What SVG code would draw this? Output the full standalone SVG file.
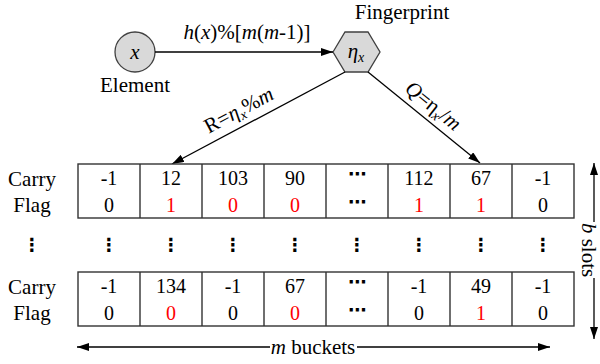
<svg xmlns="http://www.w3.org/2000/svg" width="600" height="364" viewBox="0 0 600 364" font-family="'Liberation Serif','DejaVu Serif',serif">
<style>
text{font-family:'Liberation Serif','DejaVu Serif',serif;fill:#000}
.lbl{font-size:21px}
.num{font-size:20px;text-anchor:middle}
.red{fill:#FF0000}
.it{font-style:italic}
.dots{font-family:'DejaVu Sans',sans-serif;font-weight:bold;font-size:18px;text-anchor:middle}
.cell{fill:#fff;stroke:#333;stroke-width:1.4}
.ln{stroke:#000;stroke-width:1.3;fill:none}
.shape{fill:#D9D9D9;stroke:#404040;stroke-width:1.3}
</style>
<defs>
<marker id="ah" viewBox="0 0 12 8" refX="12" refY="4" markerWidth="12" markerHeight="8" markerUnits="userSpaceOnUse" orient="auto-start-reverse">
<path d="M0,0 L12,4 L0,8 Z" fill="#000"/>
</marker>
</defs>

<g id="element">
<circle class="shape" cx="135" cy="52" r="20"/>
<text class="lbl it" x="135" y="59" text-anchor="middle">x</text>
<text class="lbl" x="135" y="92" text-anchor="middle">Element</text>
</g>

<g id="fingerprint">
<polygon class="shape" points="333,52 345,32 368,32 380,52 368,72 345,72"/>
<text class="lbl it" x="356" y="58" text-anchor="middle">η<tspan font-size="14" dy="4">x</tspan></text>
<text class="lbl" x="402" y="19" text-anchor="middle">Fingerprint</text>
</g>

<g id="connectors">
<line class="ln" x1="155" y1="52" x2="333" y2="52" marker-end="url(#ah)"/>
<text class="lbl" x="247" y="39" text-anchor="middle"><tspan class="it">h</tspan>(<tspan class="it">x</tspan>)%[<tspan class="it">m</tspan>(<tspan class="it">m</tspan>-1)]</text>
<line class="ln" x1="345" y1="72" x2="172" y2="164" marker-end="url(#ah)"/>
<text class="lbl" transform="translate(242,116) rotate(-28)" text-anchor="middle">R=<tspan class="it">η</tspan><tspan class="it" font-size="14" dy="4">x</tspan><tspan dy="-4">%</tspan><tspan class="it">m</tspan></text>
<line class="ln" x1="368" y1="72" x2="480" y2="163" marker-end="url(#ah)"/>
<text class="lbl" transform="translate(429,111) rotate(39)" text-anchor="middle"><tspan class="it">Q</tspan>=η<tspan class="it" font-size="14" dy="4">x</tspan><tspan dy="-4">/</tspan><tspan class="it">m</tspan></text>
<line class="ln" x1="594" y1="222" x2="594" y2="163" marker-end="url(#ah)"/>
<line class="ln" x1="594" y1="278" x2="594" y2="339" marker-end="url(#ah)"/>
<text class="lbl" transform="translate(589,250) rotate(90)" text-anchor="middle" dominant-baseline="central" font-size="20"><tspan class="it">b</tspan> slots</text>
<line class="ln" x1="270" y1="347" x2="77" y2="347" marker-end="url(#ah)"/>
<line class="ln" x1="357" y1="347" x2="550" y2="347" marker-end="url(#ah)"/>
<text class="lbl" x="313" y="354" text-anchor="middle"><tspan class="it">m</tspan> buckets</text>
</g>

<g id="row1">
<rect class="cell" x="78" y="164" width="496" height="54"/>
<path d="M140,164V218M202,164V218M264,164V218M326,164V218M388,164V218M450,164V218M512,164V218" stroke="#333" stroke-width="1.4"/>
<text class="lbl" x="32" y="186" text-anchor="middle">Carry</text>
<text class="lbl" x="32" y="212" text-anchor="middle">Flag</text>
<text class="num" x="109" y="185">-1</text>
<text class="num" x="171" y="185">12</text>
<text class="num" x="233" y="185">103</text>
<text class="num" x="295" y="185">90</text>
<text class="dots" x="357" y="180">⋯</text>
<text class="num" x="419" y="185">112</text>
<text class="num" x="481" y="185">67</text>
<text class="num" x="543" y="185">-1</text>
<text class="num" x="109" y="212">0</text>
<text class="num red" x="171" y="212">1</text>
<text class="num red" x="233" y="212">0</text>
<text class="num red" x="295" y="212">0</text>
<text class="dots" x="357" y="208">⋯</text>
<text class="num red" x="419" y="212">1</text>
<text class="num red" x="481" y="212">1</text>
<text class="num" x="543" y="212">0</text>
</g>

<g id="vdots">
<text class="dots" x="32" y="251">⋮</text>
<text class="dots" x="109" y="251">⋮</text>
<text class="dots" x="171" y="251">⋮</text>
<text class="dots" x="233" y="251">⋮</text>
<text class="dots" x="295" y="251">⋮</text>
<text class="dots" x="357" y="251">⋮</text>
<text class="dots" x="419" y="251">⋮</text>
<text class="dots" x="481" y="251">⋮</text>
<text class="dots" x="543" y="251">⋮</text>
</g>

<g id="row2">
<rect class="cell" x="78" y="272" width="496" height="54"/>
<path d="M140,272V326M202,272V326M264,272V326M326,272V326M388,272V326M450,272V326M512,272V326" stroke="#333" stroke-width="1.4"/>
<text class="lbl" x="32" y="294" text-anchor="middle">Carry</text>
<text class="lbl" x="32" y="320" text-anchor="middle">Flag</text>
<text class="num" x="109" y="293">-1</text>
<text class="num" x="171" y="293">134</text>
<text class="num" x="233" y="293">-1</text>
<text class="num" x="295" y="293">67</text>
<text class="dots" x="357" y="288">⋯</text>
<text class="num" x="419" y="293">-1</text>
<text class="num" x="481" y="293">49</text>
<text class="num" x="543" y="293">-1</text>
<text class="num" x="109" y="320">0</text>
<text class="num red" x="171" y="320">0</text>
<text class="num" x="233" y="320">0</text>
<text class="num red" x="295" y="320">0</text>
<text class="dots" x="357" y="316">⋯</text>
<text class="num" x="419" y="320">0</text>
<text class="num red" x="481" y="320">1</text>
<text class="num" x="543" y="320">0</text>
</g>
</svg>
